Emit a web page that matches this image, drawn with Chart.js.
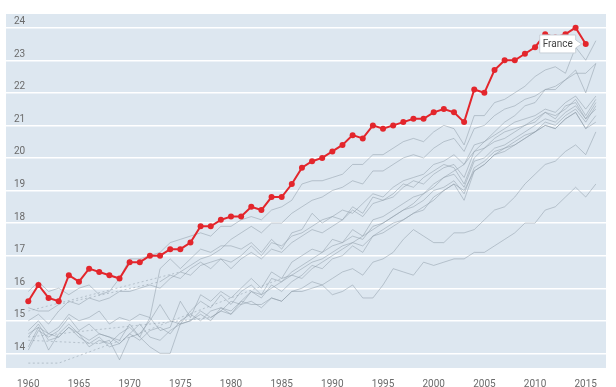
<!DOCTYPE html>
<html>
<head>
<meta charset="utf-8">
<script src="https://cdn.jsdelivr.net/npm/chart.js@4.4.1/dist/chart.umd.min.js"></script>
<style>
  html, body { margin: 0; padding: 0; background: #ffffff; }
  #wrap { width: 616px; height: 387px; }
</style>
</head>
<body>
<div id="wrap"><canvas id="chart" width="616" height="387"></canvas></div>
<script>
// Anos (eixo x)
const years = [1960,1961,1962,1963,1964,1965,1966,1967,1968,1969,
  1970,1971,1972,1973,1974,1975,1976,1977,1978,1979,
  1980,1981,1982,1983,1984,1985,1986,1987,1988,1989,
  1990,1991,1992,1993,1994,1995,1996,1997,1998,1999,
  2000,2001,2002,2003,2004,2005,2006,2007,2008,2009,
  2010,2011,2012,2013,2014,2015,2016];

const yTicks = [14,15,16,17,18,19,20,21,22,23,24];
const xTicks = [1960,1965,1970,1975,1980,1985,1990,1995,2000,2005,2010,2015];

// Série destacada (1960-2015)
const france = [15.6,16.1,15.7,15.6,16.4,16.2,16.6,16.5,16.4,16.3,
  16.8,16.8,17.0,17.0,17.2,17.2,17.4,17.9,17.9,18.1,
  18.2,18.2,18.5,18.4,18.8,18.8,19.2,19.7,19.9,20.0,
  20.2,20.4,20.7,20.6,21.0,20.9,21.0,21.1,21.2,21.2,
  21.4,21.5,21.4,21.1,22.1,22.0,22.7,23.0,23.0,23.2,
  23.4,23.8,23.7,23.8,24.0,23.5];

// Outros países (cinza); null = ano sem dado (linha pontilhada)
const peer1 = [15.9,16.2,15.9,16.0,15.8,16.0,16.1,15.8,15.9,16.3,
  16.9,16.9,17.0,17.1,17.4,17.5,17.6,17.7,17.6,17.9,
  17.9,18.1,18.2,18.1,18.4,18.5,18.7,19.2,19.3,19.3,
  19.4,19.5,19.8,19.8,20.1,20.1,20.3,20.5,20.6,20.5,
  20.8,21.0,20.9,20.4,21.3,21.3,21.7,21.8,22.0,22.2,
  22.5,22.7,22.8,22.6,23.4,23.0,23.6];
const peer2 = [15.3,null,null,null,null,null,null,null,null,null,
  16.1,null,null,null,null,16.5,16.7,16.9,17.0,17.2,
  17.5,17.7,17.9,17.7,18.0,18.0,18.3,18.5,18.7,18.8,
  19.0,19.1,19.3,19.2,19.6,19.6,19.8,20.0,20.1,20.0,
  20.3,20.5,20.6,20.2,20.9,21.0,21.3,21.5,21.6,21.8,
  21.9,22.1,22.2,22.4,22.7,22.0,22.9];
const peer3 = [15.4,15.3,15.3,15.5,null,null,null,null,null,null,
  null,null,null,16.2,16.4,16.3,16.6,16.8,16.6,16.9,
  16.6,16.9,17.1,16.9,17.2,17.1,17.4,17.6,17.8,17.7,
  17.9,18.1,18.4,18.2,18.6,18.7,18.8,19.1,19.3,19.2,
  19.5,19.7,19.8,19.4,20.2,20.3,20.6,20.8,20.9,21.0,
  21.2,21.4,21.3,21.5,21.8,21.3,21.8];
const peer4 = [15.0,15.2,14.9,15.3,15.6,15.5,15.7,15.6,15.7,15.9,
  15.9,16.0,16.1,16.0,16.3,16.5,16.4,16.7,16.8,16.9,
  16.8,17.0,17.3,17.0,17.4,17.3,17.6,17.7,17.9,18.1,
  18.2,18.4,18.3,18.6,18.9,18.8,19.1,19.3,19.4,19.5,
  19.8,19.9,20.1,19.8,20.4,20.5,20.7,20.9,21.1,21.2,
  21.3,21.5,21.4,21.7,21.9,21.5,21.9];
const peer5 = [14.7,15.0,14.6,14.8,15.2,15.0,15.1,15.3,14.9,15.1,
  15.0,15.2,15.1,16.6,16.9,16.6,16.9,17.2,17.1,17.3,
  17.3,17.2,17.4,17.1,17.5,17.2,17.7,17.8,18.3,18.0,
  18.2,18.1,18.5,18.3,18.8,18.7,18.9,19.2,19.1,19.4,
  19.6,19.8,19.7,19.2,20.0,20.3,20.5,20.6,20.8,21.0,
  21.1,21.4,21.2,21.6,21.7,21.2,21.7];
const peer6 = [14.5,null,null,null,null,null,null,null,null,null,
  null,null,null,null,null,null,null,null,15.1,15.3,
  15.6,15.5,15.9,15.8,16.0,16.2,16.4,16.3,16.6,16.8,
  17.0,17.2,17.4,17.3,17.6,17.8,18.0,18.1,18.3,18.5,
  18.7,19.0,19.2,19.0,19.6,19.8,20.1,20.3,20.4,20.6,
  20.8,21.1,21.0,21.3,21.5,21.1,21.6];
const peer7 = [14.4,null,null,null,null,null,null,14.3,14.4,13.8,
  14.5,14.6,15.0,15.5,15.0,14.9,15.3,15.6,15.4,15.8,
  15.5,15.9,16.1,15.8,16.3,16.2,16.5,16.7,16.9,17.1,
  17.3,17.4,17.6,17.5,17.9,18.0,18.2,18.4,18.5,18.7,
  19.0,19.1,19.3,18.9,19.7,19.9,20.2,20.3,20.5,20.7,
  20.8,21.0,20.9,21.2,21.4,20.9,21.1];
const peer8 = [14.2,14.8,14.1,14.6,14.9,14.6,14.2,14.4,14.3,14.6,
  14.8,14.5,15.1,14.7,14.8,15.6,15.1,15.8,15.6,15.9,
  15.7,16.0,16.3,16.0,16.5,16.3,16.8,17.0,17.2,17.1,
  17.5,17.4,17.8,17.6,18.1,18.2,18.4,18.6,18.8,18.9,
  19.2,19.4,19.5,19.1,19.9,20.0,20.3,20.4,20.6,20.8,
  21.0,21.2,21.1,21.4,21.6,21.2,21.5];
const peer9 = [14.1,14.7,14.5,14.7,15.1,14.7,14.9,14.6,14.5,14.4,
  14.9,14.5,14.2,14.0,14.0,14.9,15.0,15.2,15.0,15.4,
  15.3,15.6,15.9,15.7,16.1,15.9,16.2,16.4,16.7,16.6,
  16.9,17.0,17.3,17.1,17.6,17.7,17.9,18.1,18.3,18.4,
  18.8,19.0,19.2,18.7,19.6,19.8,20.1,20.2,20.4,20.6,
  20.8,21.0,20.9,21.2,21.4,20.9,21.3];
const peer10 = [13.7,null,null,13.7,null,null,null,null,null,null,
  14.5,null,null,null,null,null,null,null,null,null,
  15.7,null,null,null,null,16.3,16.4,16.6,16.8,16.9,
  17.1,17.3,17.4,17.6,17.8,18.0,18.2,18.4,18.6,18.9,
  19.1,19.4,19.6,19.8,20.2,20.5,20.8,21.1,21.3,21.6,
  21.7,22.1,22.1,22.4,22.6,22.6,22.9];
const peer11 = [14.6,14.8,14.6,14.5,14.8,14.5,14.3,14.5,14.2,14.3,
  14.6,14.4,14.7,14.8,14.6,15.0,15.2,15.0,15.3,15.4,
  15.2,15.5,15.6,15.4,15.7,15.6,15.9,16.0,16.2,16.1,
  16.3,16.5,16.6,16.4,16.8,16.9,17.1,17.5,17.8,17.6,
  17.4,17.4,17.7,17.7,17.8,18.1,18.4,18.5,18.8,19.2,
  19.5,19.8,19.9,20.2,20.4,20.1,20.8];
const peer12 = [14.5,14.9,14.4,14.5,14.8,14.6,14.4,14.6,14.5,14.3,
  14.6,14.9,14.5,14.4,14.7,14.9,15.0,15.3,15.1,15.3,
  15.2,15.6,15.5,15.5,15.7,15.6,15.9,15.9,16.0,16.1,
  15.8,15.9,16.1,15.7,15.7,16.1,16.6,16.5,16.4,16.8,
  16.7,16.8,16.9,16.9,17.1,17.1,17.3,17.5,17.7,18.0,
  18.0,18.4,18.5,18.8,19.1,18.8,19.2];

const peers = [peer1, peer2, peer3, peer4, peer5, peer6, peer7, peer8, peer9, peer10, peer11, peer12];

function toPoints(values) {
  return values.map((v, i) => ({ x: years[i], y: v }));
}

// Fundo azul claro da área do gráfico
const bgPlugin = {
  id: 'bg',
  beforeDraw(chart) {
    const { ctx, chartArea: a } = chart;
    ctx.save();
    ctx.fillStyle = '#dde7f0';
    ctx.fillRect(a.left, a.top, a.right - a.left, a.bottom - a.top);
    ctx.restore();
  }
};

// Caixa "France" apontando para o último ponto
const labelPlugin = {
  id: 'franceLabel',
  afterDatasetsDraw(chart) {
    const { ctx } = chart;
    const meta = chart.getDatasetMeta(0);
    const pt = meta.data[meta.data.length - 1];
    const tipX = pt.x - 4, tipY = pt.y;
    const w = 36, h = 18, right = tipX - 6;
    const left = right - w, top = tipY - h / 2;
    ctx.save();
    ctx.beginPath();
    ctx.moveTo(left, top);
    ctx.lineTo(right, top);
    ctx.lineTo(right, tipY - 4);
    ctx.lineTo(tipX, tipY);
    ctx.lineTo(right, tipY + 4);
    ctx.lineTo(right, top + h);
    ctx.lineTo(left, top + h);
    ctx.closePath();
    ctx.fillStyle = '#ffffff';
    ctx.fill();
    ctx.strokeStyle = '#c8d0d8';
    ctx.lineWidth = 1;
    ctx.stroke();
    ctx.fillStyle = '#444444';
    ctx.font = "10px 'Liberation Sans Narrow', Roboto, sans-serif";
    ctx.textAlign = 'center';
    ctx.textBaseline = 'middle';
    ctx.fillText('France', left + w / 2, tipY + 0.5);
    ctx.restore();
  }
};

const grayLine = 'rgba(140,153,166,0.5)';
const datasets = [{
  label: 'France',
  data: toPoints(france),
  borderColor: '#e3262c',
  backgroundColor: '#e3262c',
  borderWidth: 2,
  pointRadius: 3,
  pointBorderWidth: 0,
  pointBackgroundColor: '#e3262c'
}];
peers.forEach((vals, k) => {
  datasets.push({
    label: 'peer' + (k + 1),
    data: toPoints(vals),
    borderColor: grayLine,
    borderWidth: 1,
    pointRadius: 0,
    spanGaps: true,
    segment: {
      borderDash: c => (c.p0.skip || c.p1.skip) ? [2, 2.5] : undefined
    }
  });
});

new Chart(document.getElementById('chart'), {
  type: 'line',
  data: { datasets },
  plugins: [bgPlugin, labelPlugin],
  options: {
    responsive: false,
    animation: false,
    events: [],
    layout: { padding: { left: 6, right: 10, top: 7, bottom: 0 } },
    plugins: { legend: { display: false }, tooltip: { enabled: false } },
    scales: {
      x: {
        type: 'linear',
        min: 1957.8,
        max: 2017,
        afterFit: s => { s.height = 19; },
        afterBuildTicks: s => { s.ticks = xTicks.map(v => ({ value: v })); },
        grid: { display: false },
        border: { display: false },
        ticks: {
          padding: 2,
          color: '#6b6b6b',
          font: { family: "'Liberation Sans Narrow', Roboto, sans-serif", size: 10 },
          callback: v => String(v)
        }
      },
      y: {
        min: 13.55,
        max: 24.42,
        afterFit: s => { s.width = 0; },
        afterBuildTicks: s => { s.ticks = yTicks.map(v => ({ value: v })); },
        grid: { color: '#ffffff', lineWidth: 1.4, drawTicks: false },
        border: { display: false },
        ticks: {
          mirror: true,
          padding: 8,
          labelOffset: -6,
          color: '#6b6b6b',
          font: { family: "'Liberation Sans Narrow', Roboto, sans-serif", size: 10 },
          callback: v => String(v)
        }
      }
    }
  }
});
</script>
</body>
</html>
